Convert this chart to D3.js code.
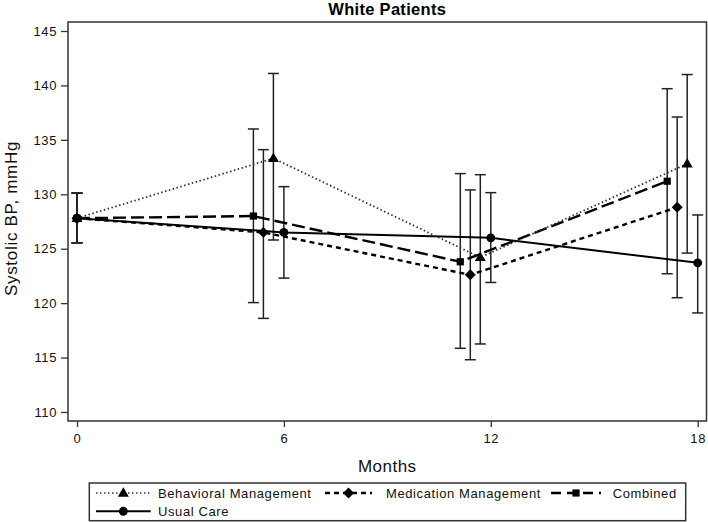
<!DOCTYPE html>
<html>
<head>
<meta charset="utf-8">
<script src="https://cdn.jsdelivr.net/npm/d3@7"></script>
<style>
  html, body { margin: 0; padding: 0; background: #fff; }
  svg { display: block; font-family: "Liberation Sans", Arial, sans-serif; }
</style>
</head>
<body>
<svg id="chart" width="708" height="522"></svg>
<script>
// ---------------- data ----------------
const months = [0, 6, 12, 18];
const seriesNames = ["Behavioral Management", "Medication Management", "Combined", "Usual Care"];

const behavioralMean = [127.8, 133.3, 124.2, 132.8];
const behavioralLow  = [125.55, 125.8, 116.25, 124.6];
const behavioralHigh = [130.1, 141.1, 131.8, 141.0];

const medicationMean = [127.8, 126.5, 122.6, 128.8];
const medicationLow  = [125.55, 118.6, 114.8, 120.5];
const medicationHigh = [130.1, 134.1, 130.4, 137.1];

const combinedMean = [127.8, 128.0, 123.8, 131.2];
const combinedLow  = [125.55, 120.05, 115.85, 122.7];
const combinedHigh = [130.1, 136.0, 131.9, 139.7];

const usualMean = [127.8, 126.5, 126.0, 123.7];
const usualLow  = [125.55, 122.3, 121.9, 119.1];
const usualHigh = [130.1, 130.7, 130.15, 128.1];

const yTicks = [110, 115, 120, 125, 130, 135, 140, 145];
const xTicks = [0, 6, 12, 18];
const titleText = "White Patients";
const xLabel = "Months";
const yLabel = "Systolic BP, mmHg";

// ---------------- layout ----------------
const svg = d3.select("#chart");
const frame = { left: 68, right: 706.5, top: 22, bottom: 421 };
const x = d3.scaleLinear().domain([0, 18]).range([77, 697.7]);
const y = d3.scaleLinear().domain([110, 145]).range([412, 31]);

const styles = [
  { name: seriesNames[0], mean: behavioralMean, lo: behavioralLow, hi: behavioralHigh,
    dodge: -10.5, dash: "1.5,2.5", width: 1.8, color: "#333", symbol: "triangle" },
  { name: seriesNames[1], mean: medicationMean, lo: medicationLow, hi: medicationHigh,
    dodge: -20.5, dash: "5,4", width: 2.4, color: "#000", symbol: "diamond" },
  { name: seriesNames[2], mean: combinedMean, lo: combinedLow, hi: combinedHigh,
    dodge: -30.5, dash: "13,5", width: 2.4, color: "#000", symbol: "square" },
  { name: seriesNames[3], mean: usualMean, lo: usualLow, hi: usualHigh,
    dodge: 0, dash: null, width: 2, color: "#000", symbol: "circle" }
];

function px(m, s) { return x(m) + (m === 0 ? 0 : s.dodge); }

function symbolPath(kind) {
  if (kind === "triangle") return d3.symbol(d3.symbolTriangle, 52)();
  if (kind === "diamond") return d3.symbol(d3.symbolSquare, 60)();
  if (kind === "square") return d3.symbol(d3.symbolSquare, 52)();
  return d3.symbol(d3.symbolCircle, 62)();
}
function symbolTransform(kind, cx, cy) {
  return kind === "diamond" ? `translate(${cx},${cy}) rotate(45)` :
         kind === "triangle" ? `translate(${cx},${cy + 0.5})` : `translate(${cx},${cy})`;
}

// title
svg.append("text").attr("x", (frame.left + frame.right) / 2).attr("y", 15)
  .attr("text-anchor", "middle").attr("font-size", 16.5).attr("font-weight", "bold")
  .attr("letter-spacing", 0.3).attr("fill", "#000").text(titleText);

// frame
svg.append("rect").attr("x", frame.left).attr("y", frame.top)
  .attr("width", frame.right - frame.left).attr("height", frame.bottom - frame.top)
  .attr("fill", "none").attr("stroke", "#333").attr("stroke-width", 1.5);

// y axis
const yAxis = svg.append("g").attr("transform", `translate(${frame.left},0)`)
  .call(d3.axisLeft(y).tickValues(yTicks).tickSize(7).tickPadding(4));
yAxis.select(".domain").remove();
yAxis.selectAll(".tick line").attr("stroke", "#333").attr("stroke-width", 1.3);
yAxis.selectAll(".tick text").attr("font-size", 13).attr("letter-spacing", 0.6)
  .attr("fill", "#111").attr("font-family", "Liberation Sans, Arial, sans-serif");

// x axis
const xAxis = svg.append("g").attr("transform", `translate(0,${frame.bottom})`)
  .call(d3.axisBottom(x).tickValues(xTicks).tickSize(6).tickPadding(7));
xAxis.select(".domain").remove();
xAxis.selectAll(".tick line").attr("stroke", "#333").attr("stroke-width", 1.3);
xAxis.selectAll(".tick text").attr("font-size", 13).attr("letter-spacing", 0.6)
  .attr("fill", "#111").attr("font-family", "Liberation Sans, Arial, sans-serif");

// axis labels
svg.append("text").attr("x", (frame.left + frame.right) / 2).attr("y", 471.5)
  .attr("text-anchor", "middle").attr("font-size", 17).attr("letter-spacing", 0.5)
  .attr("fill", "#111").text(xLabel);
svg.append("text").attr("transform", `translate(17,${(frame.top + frame.bottom) / 2 - 3}) rotate(-90)`)
  .attr("text-anchor", "middle").attr("font-size", 17).attr("letter-spacing", 0.7)
  .attr("fill", "#111").text(yLabel);

// error bars
const capHalf = 5.5;
styles.forEach(s => {
  const g = svg.append("g");
  months.forEach((m, i) => {
    const cx = px(m, s);
    g.append("line").attr("x1", cx).attr("x2", cx).attr("y1", y(s.lo[i])).attr("y2", y(s.hi[i]))
      .attr("stroke", "#222").attr("stroke-width", 1.5);
    [s.lo[i], s.hi[i]].forEach(v => {
      g.append("line").attr("x1", cx - capHalf).attr("x2", cx + capHalf)
        .attr("y1", y(v)).attr("y2", y(v)).attr("stroke", "#222").attr("stroke-width", 1.5);
    });
  });
});

// lines
const lineGen = d3.line();
[3, 1, 2, 0].forEach(k => {
  const s = styles[k];
  const pts = months.map((m, i) => [px(m, s), y(s.mean[i])]);
  svg.append("path").attr("d", lineGen(pts)).attr("fill", "none")
    .attr("stroke", s.color).attr("stroke-width", s.width)
    .attr("stroke-dasharray", s.dash);
});

// markers
[3, 1, 2, 0].forEach(k => {
  const s = styles[k];
  months.forEach((m, i) => {
    svg.append("path").attr("d", symbolPath(s.symbol))
      .attr("transform", symbolTransform(s.symbol, px(m, s), y(s.mean[i])))
      .attr("fill", "#000");
  });
});

// legend
const legendBox = { x: 89.3, y: 483, w: 596.4, h: 37.7 };
svg.append("rect").attr("x", legendBox.x).attr("y", legendBox.y)
  .attr("width", legendBox.w).attr("height", legendBox.h)
  .attr("fill", "none").attr("stroke", "#333").attr("stroke-width", 1.5);

const legendPos = [
  { sx: 96, ex: 150.7, tx: 158, ty: 493 },
  { sx: 325, ex: 372, tx: 386, ty: 493 },
  { sx: 551, ex: 601, tx: 612.7, ty: 493 },
  { sx: 96, ex: 150.7, tx: 158, ty: 511.3 }
];
styles.forEach((s, k) => {
  const p = legendPos[k];
  const cx = (p.sx + p.ex) / 2;
  svg.append("line").attr("x1", p.sx).attr("x2", p.ex).attr("y1", p.ty).attr("y2", p.ty)
    .attr("stroke", k === 0 ? "#666" : s.color).attr("stroke-width", s.width)
    .attr("stroke-dasharray", k === 2 ? "10,6" : s.dash);
  svg.append("path").attr("d", symbolPath(s.symbol))
    .attr("transform", symbolTransform(s.symbol, cx, p.ty)).attr("fill", "#000");
  svg.append("text").attr("x", p.tx).attr("y", p.ty + 4.6)
    .attr("font-size", 13).attr("letter-spacing", 0.6).attr("fill", "#111").text(s.name);
});
</script>
</body>
</html>
